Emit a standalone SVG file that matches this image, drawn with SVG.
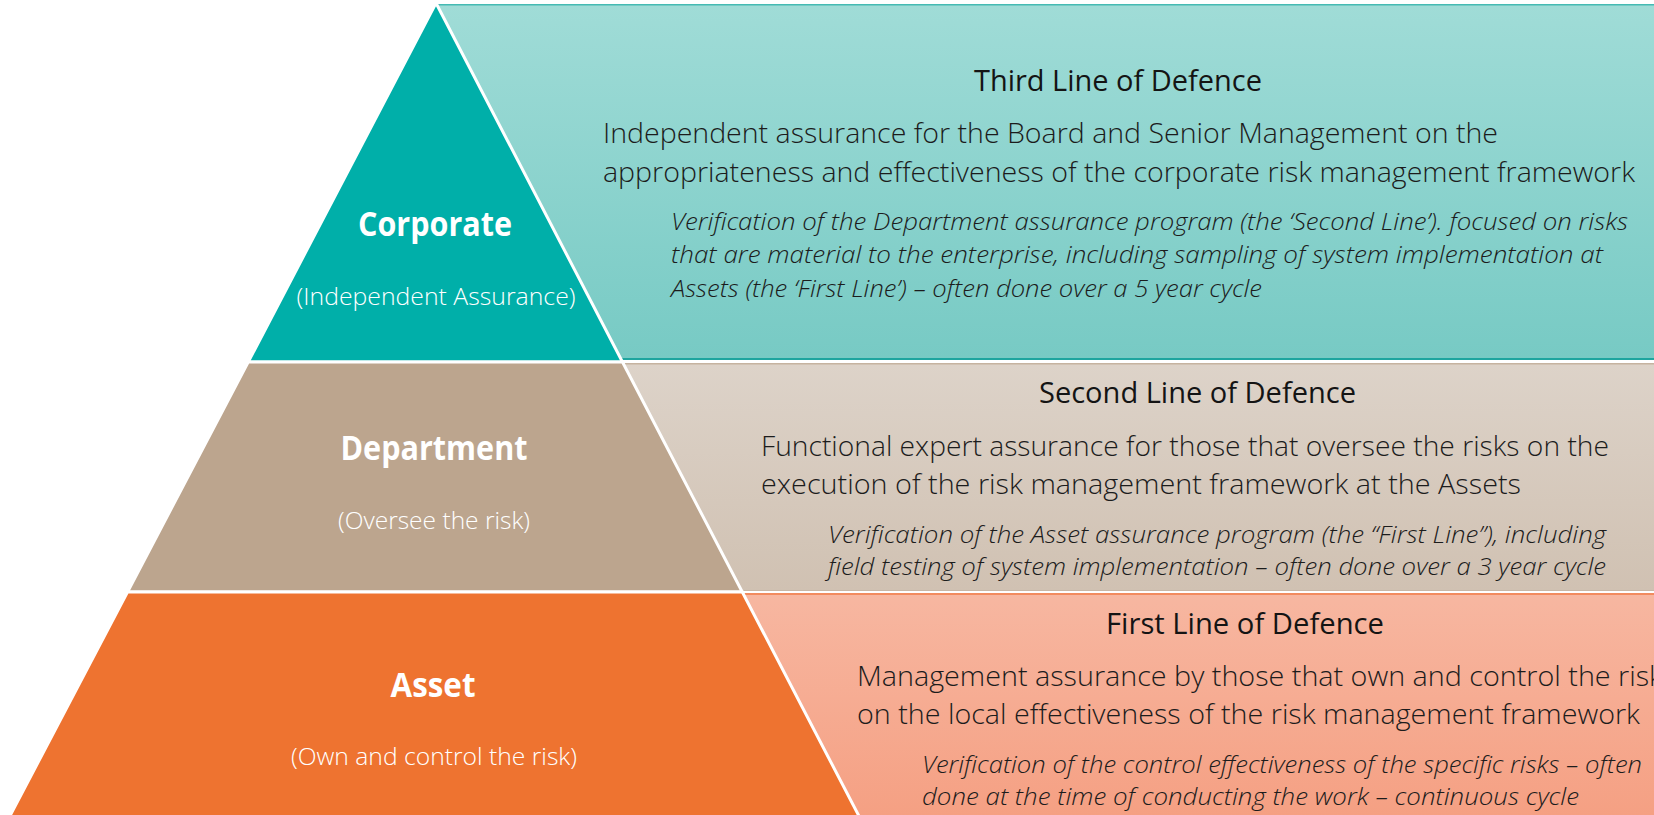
<svg xmlns="http://www.w3.org/2000/svg" width="1654" height="815" viewBox="0 0 1654 815">
  <style>
    text { font-family: "Open Sans", "Noto Sans", "Liberation Sans", sans-serif; }
    .lbl { fill: #ffffff; text-anchor: middle; }
    .lblb { font-weight: 700; font-size: 34px; }
    .lbls { font-weight: 300; font-size: 24px; }
    .ttl { font-weight: 400; font-size: 30px; fill: #141414; }
    .body { font-weight: 300; font-size: 27px; fill: #1c1c1c; }
    .it { font-style: italic; font-weight: 300; font-size: 24px; fill: #1c1c1c; }
    .layer { stroke: #ffffff; stroke-width: 3; stroke-linejoin: miter; }
  </style>
  <defs>
    <linearGradient id="g3" x1="0" y1="0" x2="0" y2="1">
      <stop offset="0" stop-color="#a0dcd7"/>
      <stop offset="1" stop-color="#77cac4"/>
    </linearGradient>
    <linearGradient id="g2" x1="0" y1="0" x2="0" y2="1">
      <stop offset="0" stop-color="#ddd3c9"/>
      <stop offset="1" stop-color="#d0c1b2"/>
    </linearGradient>
    <linearGradient id="g1" x1="0" y1="0" x2="0" y2="1">
      <stop offset="0" stop-color="#f7b7a1"/>
      <stop offset="1" stop-color="#f5a083"/>
    </linearGradient>
  </defs>
  <rect x="0" y="0" width="1654" height="815" fill="#ffffff"/>

  <g id="panel-third">
    <polygon points="436,4 1654,4 1654,360 622,360" fill="url(#g3)"/>
    <line x1="438" y1="4.8" x2="1654" y2="4.8" stroke="#45bab3" stroke-width="1.6"/>
    <line x1="618" y1="359" x2="1654" y2="359" stroke="#1ea59f" stroke-width="2"/>
    <text class="ttl" x="974" y="91" textLength="288" lengthAdjust="spacingAndGlyphs">Third Line of Defence</text>
    <text class="body" x="603" y="143" textLength="895" lengthAdjust="spacingAndGlyphs">Independent assurance for the Board and Senior Management on the</text>
    <text class="body" x="603" y="182" textLength="1032" lengthAdjust="spacingAndGlyphs">appropriateness and effectiveness of the corporate risk management framework</text>
    <text class="it" x="671" y="230" textLength="957" lengthAdjust="spacingAndGlyphs">Verification of the Department assurance program (the ‘Second Line’). focused on risks</text>
    <text class="it" x="671" y="263" textLength="932" lengthAdjust="spacingAndGlyphs">that are material to the enterprise, including sampling of system implementation at</text>
    <text class="it" x="671" y="297" textLength="591" lengthAdjust="spacingAndGlyphs">Assets (the ‘First Line’) – often done over a 5 year cycle</text>
  </g>

  <g id="panel-second">
    <polygon points="623,363 1654,363 1654,591 742,591" fill="url(#g2)"/>
    <line x1="623" y1="363.8" x2="1654" y2="363.8" stroke="#c6b3a0" stroke-width="1.6"/>
    <line x1="740" y1="590.5" x2="1654" y2="590.5" stroke="#c8b7a6" stroke-width="1"/>
    <text class="ttl" x="1039" y="403" textLength="317" lengthAdjust="spacingAndGlyphs">Second Line of Defence</text>
    <text class="body" x="761" y="456" textLength="848" lengthAdjust="spacingAndGlyphs">Functional expert assurance for those that oversee the risks on the</text>
    <text class="body" x="761" y="494" textLength="760" lengthAdjust="spacingAndGlyphs">execution of the risk management framework at the Assets</text>
    <text class="it" x="828" y="543" textLength="778" lengthAdjust="spacingAndGlyphs">Verification of the Asset assurance program (the “First Line”), including</text>
    <text class="it" x="828" y="575" textLength="778" lengthAdjust="spacingAndGlyphs">field testing of system implementation – often done over a 3 year cycle</text>
  </g>

  <g id="panel-first">
    <polygon points="743,593 1654,593 1654,815 858,815" fill="url(#g1)"/>
    <line x1="743" y1="594" x2="1654" y2="594" stroke="#f28b5f" stroke-width="2"/>
    <text class="ttl" x="1106" y="634" textLength="278" lengthAdjust="spacingAndGlyphs">First Line of Defence</text>
    <text class="body" x="857" y="686" textLength="806" lengthAdjust="spacingAndGlyphs">Management assurance by those that own and control the risk</text>
    <text class="body" x="857" y="724" textLength="783" lengthAdjust="spacingAndGlyphs">on the local effectiveness of the risk management framework</text>
    <text class="it" x="922" y="773" textLength="720" lengthAdjust="spacingAndGlyphs">Verification of the control effectiveness of the specific risks – often</text>
    <text class="it" x="922" y="805" textLength="657" lengthAdjust="spacingAndGlyphs">done at the time of conducting the work – continuous cycle</text>
  </g>

  <g id="layer-corporate">
    <polygon class="layer" points="436,3 622.5,362 248.2,362" fill="#00afa9"/>
    <text class="lbl lblb" x="435" y="236" textLength="154" lengthAdjust="spacingAndGlyphs">Corporate</text>
    <text class="lbl lbls" x="436" y="305" textLength="279" lengthAdjust="spacingAndGlyphs">(Independent Assurance)</text>
  </g>

  <g id="layer-department">
    <polygon class="layer" points="248.2,362 622.5,362 742.3,592 127.5,592" fill="#bca58e"/>
    <text class="lbl lblb" x="434" y="460" textLength="187" lengthAdjust="spacingAndGlyphs">Department</text>
    <text class="lbl lbls" x="434" y="529" textLength="192" lengthAdjust="spacingAndGlyphs">(Oversee the risk)</text>
  </g>

  <g id="layer-asset">
    <polygon class="layer" points="127.5,592 742.3,592 861,820 7.8,820" fill="#ee7330"/>
    <text class="lbl lblb" x="433" y="697" textLength="85" lengthAdjust="spacingAndGlyphs">Asset</text>
    <text class="lbl lbls" x="434" y="765" textLength="286" lengthAdjust="spacingAndGlyphs">(Own and control the risk)</text>
  </g>

  <g id="connectors"/>
</svg>
